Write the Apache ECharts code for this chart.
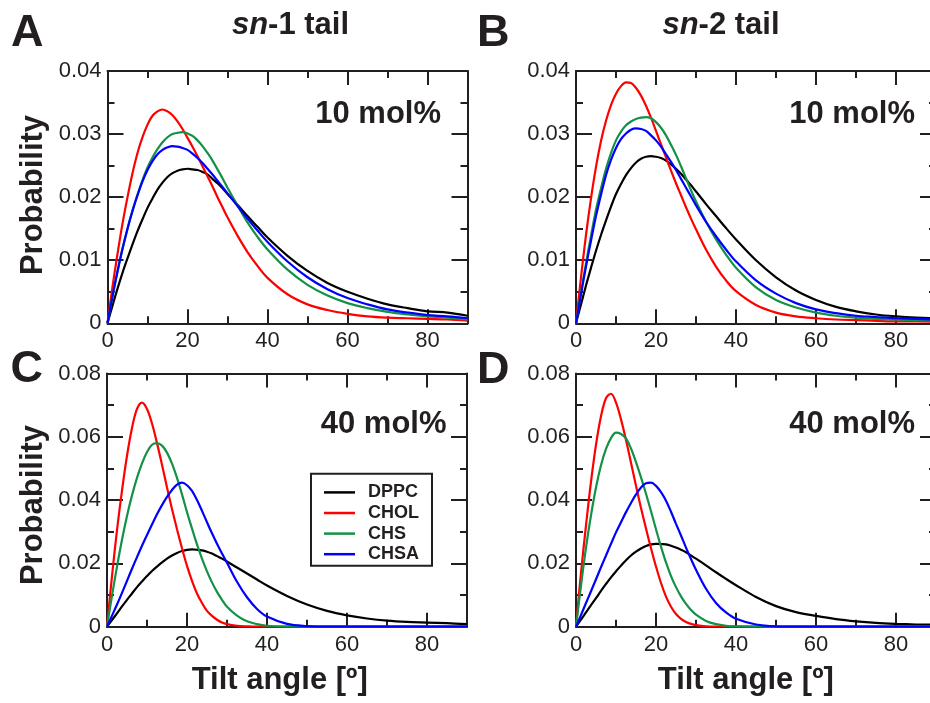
<!DOCTYPE html>
<html><head><meta charset="utf-8">
<script src="https://cdn.jsdelivr.net/npm/echarts@6/dist/echarts.min.js"></script>
<style>html,body{margin:0;padding:0;background:#fff}#c{width:930px;height:703px}</style>
</head><body><div id="c"></div>
<script>
// ---------- data ----------
const angles = [0,1.25,2.5,3.75,5,6.25,7.5,8.75,10,11.25,12.5,13.75,15,16.25,17.5,18.75,20,21.25,22.5,23.75,25,26.25,27.5,28.75,30,
                32.5,35,37.5,40,45,50,55,60,65,70,75,80,85,90];
const seriesNames = ['DPPC','CHOL','CHS','CHSA'];
const xTicks = [0,20,40,60,80];
const yTicks10 = [0,0.01,0.02,0.03,0.04];
const yTicks40 = [0,0.02,0.04,0.06,0.08];
const panelTitles = ['sn-1 tail','sn-2 tail'];
const concLabels = ['10 mol%','40 mol%'];
const panelLetters = ['A','B','C','D'];

// A: sn-1, 10 mol%
const A_DPPC = [0,0.0028,0.0055,0.0080,0.0103,0.0125,0.0146,0.0165,0.0183,0.0198,0.0212,0.0223,0.0232,0.0238,0.0242,0.0244,0.0245,0.0244,0.0243,0.0240,0.0236,0.0229,0.0222,0.0214,0.0205,
                0.0188,0.0170,0.0153,0.0136,0.0107,0.0083,0.0064,0.0050,0.0039,0.0030,0.0024,0.0019,0.0017,0.0012];
const A_CHOL = [0,0.0058,0.0110,0.0158,0.0200,0.0238,0.0270,0.0295,0.0315,0.0329,0.0336,0.0339,0.0336,0.0330,0.0320,0.0308,0.0294,0.0280,0.0265,0.0249,0.0233,0.0217,0.0200,0.0184,0.0168,
                0.0139,0.0113,0.0091,0.0072,0.0046,0.0030,0.0021,0.0015,0.0011,0.0009,0.0008,0.0007,0.0006,0.0004];
const A_CHS  = [0,0.0043,0.0082,0.0118,0.0150,0.0179,0.0204,0.0227,0.0247,0.0263,0.0276,0.0287,0.0295,0.0300,0.0302,0.0303,0.0301,0.0297,0.0290,0.0281,0.0270,0.0258,0.0244,0.0230,0.0215,
                0.0187,0.0160,0.0137,0.0117,0.0085,0.0061,0.0044,0.0032,0.0024,0.0018,0.0014,0.0011,0.0009,0.0006];
const A_CHSA = [0,0.0043,0.0082,0.0118,0.0150,0.0178,0.0203,0.0225,0.0243,0.0257,0.0268,0.0275,0.0279,0.0281,0.0280,0.0278,0.0275,0.0269,0.0262,0.0254,0.0245,0.0236,0.0226,0.0216,0.0206,
                0.0186,0.0166,0.0147,0.0129,0.0098,0.0073,0.0054,0.0040,0.0030,0.0022,0.0017,0.0013,0.0011,0.0008];
// B: sn-2, 10 mol%
const B_DPPC = [0,0.0030,0.0060,0.0088,0.0115,0.0140,0.0163,0.0185,0.0205,0.0221,0.0235,0.0246,0.0255,0.0261,0.0264,0.0265,0.0264,0.0262,0.0258,0.0252,0.0245,0.0237,0.0228,0.0219,0.0209,
                0.0189,0.0170,0.0151,0.0133,0.0100,0.0073,0.0052,0.0037,0.0026,0.0019,0.0014,0.0011,0.0009,0.0008];
const B_CHOL = [0,0.0073,0.0140,0.0198,0.0248,0.0289,0.0321,0.0346,0.0364,0.0376,0.0382,0.0381,0.0373,0.0361,0.0345,0.0326,0.0305,0.0284,0.0263,0.0242,0.0222,0.0203,0.0184,0.0166,0.0149,
                0.0117,0.0090,0.0068,0.0051,0.0029,0.0017,0.0011,0.0008,0.0006,0.0005,0.0004,0.0003,0.0003,0.0002];
const B_CHS  = [0,0.0049,0.0095,0.0139,0.0180,0.0214,0.0245,0.0270,0.0290,0.0304,0.0314,0.0320,0.0324,0.0326,0.0327,0.0325,0.0319,0.0310,0.0298,0.0283,0.0267,0.0249,0.0230,0.0211,0.0193,
                0.0161,0.0133,0.0109,0.0088,0.0057,0.0037,0.0025,0.0017,0.0012,0.0009,0.0007,0.0006,0.0005,0.0004];
const B_CHSA = [0,0.0046,0.0090,0.0131,0.0170,0.0204,0.0235,0.0259,0.0278,0.0292,0.0301,0.0307,0.0309,0.0308,0.0305,0.0298,0.0290,0.0280,0.0268,0.0256,0.0243,0.0229,0.0215,0.0201,0.0187,
                0.0161,0.0138,0.0117,0.0098,0.0068,0.0047,0.0032,0.0022,0.0016,0.0012,0.0010,0.0008,0.0007,0.0006];
// C: sn-1, 40 mol%
const C_DPPC = [0,0.0021,0.0042,0.0064,0.0085,0.0105,0.0125,0.0143,0.0160,0.0176,0.0190,0.0203,0.0215,0.0225,0.0233,0.0239,0.0243,0.0244,0.0243,0.0241,0.0237,0.0231,0.0223,0.0215,0.0206,
                0.0187,0.0168,0.0149,0.0130,0.0097,0.0070,0.0050,0.0036,0.0026,0.0019,0.0015,0.0013,0.0011,0.0008];
const C_CHOL = [0,0.0160,0.0305,0.0430,0.0540,0.0628,0.0688,0.0708,0.0688,0.0642,0.0580,0.0512,0.0440,0.0372,0.0308,0.0248,0.0192,0.0145,0.0105,0.0075,0.0050,0.0034,0.0022,0.0013,0.0008,
                0.0003,0.0001,0,0,0,0,0,0,0,0,0,0,0,0];
const C_CHS  = [0,0.0098,0.0190,0.0275,0.0350,0.0415,0.0470,0.0516,0.0552,0.0575,0.0580,0.0572,0.0550,0.0515,0.0470,0.0418,0.0362,0.0310,0.0260,0.0215,0.0175,0.0140,0.0110,0.0085,0.0063,
                0.0035,0.0017,0.0008,0.0003,0,0,0,0,0,0,0,0,0,0];
const C_CHSA = [0,0.0035,0.0070,0.0107,0.0145,0.0183,0.0220,0.0256,0.0290,0.0323,0.0355,0.0384,0.0410,0.0432,0.0449,0.0455,0.0447,0.0429,0.0400,0.0366,0.0330,0.0295,0.0262,0.0231,0.0202,
                0.0142,0.0093,0.0056,0.0032,0.0009,0.0002,0,0,0,0,0,0,0,0];
// D: sn-2, 40 mol%
const D_DPPC = [0,0.0022,0.0045,0.0068,0.0090,0.0113,0.0135,0.0156,0.0175,0.0193,0.0210,0.0225,0.0237,0.0247,0.0255,0.0260,0.0262,0.0261,0.0260,0.0256,0.0250,0.0243,0.0235,0.0225,0.0215,
                0.0194,0.0172,0.0151,0.0131,0.0094,0.0065,0.0046,0.0034,0.0024,0.0017,0.0012,0.0009,0.0007,0.0006];
const D_CHOL = [0,0.0170,0.0320,0.0458,0.0575,0.0665,0.0722,0.0736,0.0708,0.0655,0.0590,0.0518,0.0445,0.0375,0.0310,0.0248,0.0190,0.0138,0.0095,0.0063,0.0040,0.0025,0.0015,0.0009,0.0005,
                0.0001,0,0,0,0,0,0,0,0,0,0,0,0,0];
const D_CHS  = [0,0.0130,0.0250,0.0352,0.0440,0.0510,0.0562,0.0596,0.0613,0.0609,0.0595,0.0563,0.0520,0.0472,0.0420,0.0365,0.0308,0.0253,0.0203,0.0160,0.0125,0.0096,0.0072,0.0053,0.0038,
                0.0018,0.0008,0.0003,0.0001,0,0,0,0,0,0,0,0,0,0];
const D_CHSA = [0,0.0037,0.0075,0.0112,0.0150,0.0188,0.0225,0.0262,0.0298,0.0330,0.0362,0.0391,0.0418,0.0440,0.0453,0.0455,0.0445,0.0425,0.0398,0.0363,0.0325,0.0288,0.0250,0.0214,0.0180,
                0.0120,0.0075,0.0045,0.0025,0.0007,0.0001,0,0,0,0,0,0,0,0];

// ---------- style / layout ----------
const ink = '#231f20';
const FONT = '"Liberation Sans", Arial, Helvetica, sans-serif';
const colors = ['#000000','#ff0000','#139146','#0000ff'];

const panels = [
  {left:107.5, top:71, width:360, height:252.3, yTicks:yTicks10, data:[A_DPPC,A_CHOL,A_CHS,A_CHSA]},
  {left:576,   top:71, width:360, height:252.3, yTicks:yTicks10, data:[B_DPPC,B_CHOL,B_CHS,B_CHSA]},
  {left:107,   top:373.5, width:360, height:253.2, yTicks:yTicks40, data:[C_DPPC,C_CHOL,C_CHS,C_CHSA]},
  {left:576,   top:373.5, width:360, height:253.2, yTicks:yTicks40, data:[D_DPPC,D_CHOL,D_CHS,D_CHSA]}
];

const grid = [], xAxis = [], yAxis = [], series = [];
const tickStyle = {color:ink, width:2};
panels.forEach((p, gi) => {
  grid.push({left:p.left, top:p.top, width:p.width, height:p.height, containLabel:false, outerBoundsMode:'none'});
  const xStep = xTicks[1] - xTicks[0];
  const xMax = 90;
  const xBase = {gridIndex:gi, type:'value', min:xTicks[0], max:xMax, splitLine:{show:false}};
  const xMajorIdx = xAxis.length;
  ['bottom','top'].forEach(pos => {
    xAxis.push(Object.assign({}, xBase, {
      position:pos, interval:xStep,
      axisLine:{show:true, onZero:false, lineStyle:{color:ink, width:2}},
      axisTick:{show:true, inside:true, length:14, lineStyle:tickStyle},
      axisLabel:{show:pos==='bottom', margin:7, fontSize:22, color:ink, fontFamily:FONT, showMaxLabel:false}
    }));
    xAxis.push(Object.assign({}, xBase, {
      position:pos, interval:xStep/2,
      axisLine:{show:false, onZero:false},
      axisTick:{show:true, inside:true, length:7, lineStyle:tickStyle},
      axisLabel:{show:false}
    }));
  });
  const yMax = p.yTicks[p.yTicks.length-1];
  const yStep = p.yTicks[1] - p.yTicks[0];
  const yLeftIdx = yAxis.length;
  ['left','right'].forEach(pos => {
    yAxis.push({
      gridIndex:gi, type:'value', position:pos, min:0, max:yMax, interval:yStep,
      splitLine:{show:false}, minorSplitLine:{show:false},
      axisLine:{show:true, onZero:false, lineStyle:{color:ink, width:2}},
      axisTick:{show:true, inside:true, length:16, lineStyle:tickStyle},
      minorTick:{show:true, splitNumber:2, length:7, lineStyle:tickStyle},
      axisLabel:{show:pos==='left', margin:6, fontSize:22, color:ink, fontFamily:FONT,
        formatter: v => String(+v.toFixed(3))}
    });
  });
  p.data.forEach((vals, si) => {
    series.push({
      type:'line', name:seriesNames[si], xAxisIndex:xMajorIdx, yAxisIndex:yLeftIdx,
      data: angles.map((a, i) => [a, vals[i]]),
      smooth:0.35, showSymbol:false, symbol:'none',
      lineStyle:{color:colors[si], width:2.2}, itemStyle:{color:colors[si]},
      z: 2 + si
    });
  });
});

function txt(x, y, text, size, opts) {
  return Object.assign({type:'text', x:x, y:y, silent:true, style:{
    text:text, fontSize:size, fontWeight:'bold', fontFamily:FONT, fill:ink,
    align:(opts && opts.align) || 'left', verticalAlign:'middle'
  }}, (opts && opts.extra) || {});
}
function titleText(x, y, s) {
  const parts = s.split('-');
  const base = {fontSize:31, fontWeight:'bold', fontFamily:FONT, fill:ink};
  return {type:'text', x:x, y:y, silent:true, style:{
    text:'{i|' + parts[0] + '}{n|-' + parts.slice(1).join('-') + '}',
    align:'center', verticalAlign:'middle', fontSize:31, fontWeight:'bold', fontFamily:FONT, fill:ink,
    rich:{i:Object.assign({fontStyle:'italic'}, base), n:Object.assign({}, base)}
  }};
}

const graphic = [
  txt(11, 34, panelLetters[0], 45),
  txt(477, 34, panelLetters[1], 45),
  txt(10.5, 370, panelLetters[2], 45),
  txt(477, 371, panelLetters[3], 45),
  titleText(290.5, 25, panelTitles[0]),
  titleText(721, 25, panelTitles[1]),
  txt(441, 114, concLabels[0], 31, {align:'right'}),
  txt(915, 114, concLabels[0], 31, {align:'right'}),
  txt(446.5, 424, concLabels[1], 31, {align:'right'}),
  txt(915, 424, concLabels[1], 31, {align:'right'}),
  txt(33, 195, 'Probability', 31, {align:'center', extra:{rotation:Math.PI/2}}),
  txt(33, 505, 'Probability', 31, {align:'center', extra:{rotation:Math.PI/2}}),
  txt(279.7, 680, 'Tilt angle [º]', 31, {align:'center'}),
  txt(745.8, 680, 'Tilt angle [º]', 31, {align:'center'})
];

const chart = echarts.init(document.getElementById('c'), null, {renderer:'canvas'});
chart.setOption({
  animation:false,
  backgroundColor:'#ffffff',
  grid, xAxis, yAxis, series, graphic,
  legend:{
    data:seriesNames, orient:'vertical', left:311, top:473.7,
    padding:[8.7,13,1.5,13], itemGap:0.6, itemWidth:31, itemHeight:2.5, icon:'rect',
    borderColor:ink, borderWidth:2, borderRadius:0, backgroundColor:'#ffffff',
    selectedMode:false,
    textStyle:{fontSize:18, fontWeight:'bold', color:ink, fontFamily:FONT, lineHeight:20, padding:[0,0,0,8]}
  }
});
</script></body></html>
